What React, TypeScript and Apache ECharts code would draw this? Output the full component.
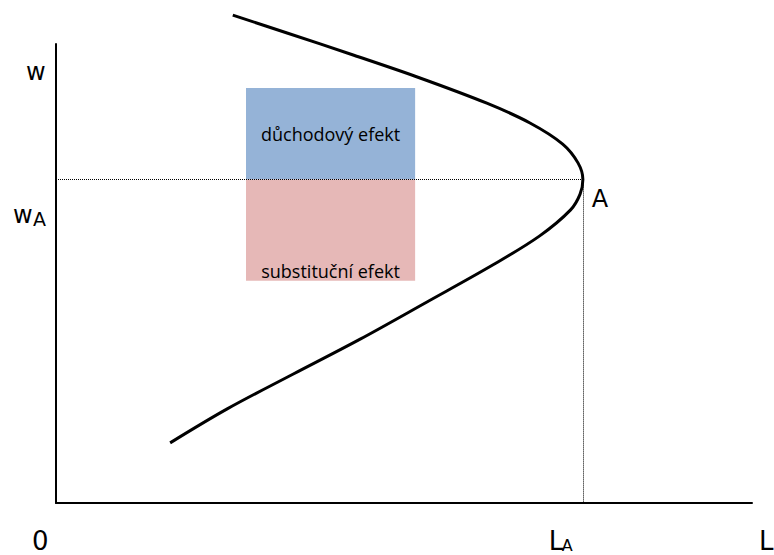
import React, { useEffect, useRef } from "react";
import * as echarts from "echarts";

// Backward-bending labour supply curve (L, w), ordered from bottom to top
const curveL = [16.4, 24.6, 34.1, 43.7, 53.3, 62.8, 69.5, 73.9, 75.3, 75.7, 75.0, 72.8, 68.1, 61.9, 52.3, 42.7, 33.2, 25.4];
const curveW = [13.1, 20.5, 28.1, 35.7, 43.8, 51.9, 58.2, 63.8, 67.3, 70.5, 74.1, 78.2, 82.8, 87.1, 92.6, 97.6, 102.4, 106.3];
const pointA = [75.7, 70.5];
const effectL = [27.3, 51.6];
const incomeW = [70.5, 90.4];
const substitutionW = [48.4, 70.5];
const effectLabels = ["důchodový efekt", "substituční efekt"];
const axisTexts = { w: "w", L: "L", zero: "0", sub: "A", point: "A" };

export default function App() {
  const ref = useRef<HTMLDivElement>(null);
  useEffect(() => {
    if (!ref.current) return;
    const chart = echarts.init(ref.current, undefined, { renderer: "svg" });
    const data = curveL.map((l, i) => [l, curveW[i]]);
    const axisCommon = {
      type: "value" as const,
      min: 0,
      max: 100,
      axisLine: { show: true, lineStyle: { color: "#000", width: 2 } },
      axisTick: { show: false },
      axisLabel: { show: false },
      splitLine: { show: false },
    };
    const effectLabel = {
      show: true,
      color: "#000",
      fontFamily: "Open Sans",
      fontSize: 18,
    };
    chart.setOption({
      animation: false,
      grid: { left: 56, right: 22, top: 44, bottom: 52 },
      xAxis: axisCommon,
      yAxis: axisCommon,
      series: [
        {
          type: "line",
          data,
          clip: false,
          smooth: 0.35,
          symbol: "none",
          lineStyle: { color: "#000", width: 3 },
          silent: true,
          markArea: {
            silent: true,
            itemStyle: { opacity: 1 },
            data: [
              [
                {
                  coord: [effectL[0], incomeW[1]],
                  itemStyle: { color: "#95b3d7", opacity: 1 },
                  label: { ...effectLabel, position: "inside", formatter: effectLabels[0] },
                },
                { coord: [effectL[1], incomeW[0]] },
              ],
              [
                {
                  coord: [effectL[0], substitutionW[1]],
                  itemStyle: { color: "#e6b8b7", opacity: 1 },
                  label: { ...effectLabel, position: "insideBottom", distance: 1, formatter: effectLabels[1] },
                },
                { coord: [effectL[1], substitutionW[0]] },
              ],
            ],
          },
          markLine: {
            silent: true,
            symbol: ["none", "none"],
            label: { show: false },
            lineStyle: { color: "#000", width: 1, type: [1, 1] },
            data: [
              [{ coord: [0, pointA[1]] }, { coord: [pointA[0], pointA[1]] }],
              [{ coord: [pointA[0], pointA[1]] }, { coord: [pointA[0], 0] }],
            ],
          },
        },
      ],
    });

    const pA = chart.convertToPixel({ gridIndex: 0 }, pointA) as number[];
    const origin = chart.convertToPixel({ gridIndex: 0 }, [0, 0]) as number[];
    const top = chart.convertToPixel({ gridIndex: 0 }, [0, 100]) as number[];
    const right = chart.convertToPixel({ gridIndex: 0 }, [100, 0]) as number[];
    const font = "DejaVu Sans";
    const txt = (text: string, x: number, y: number, size: number) => ({
      type: "text",
      x,
      y,
      silent: true,
      style: { text, fill: "#000", font: `${size}px "${font}"`, align: "left", verticalAlign: "middle" },
    });
    chart.setOption({
      graphic: [
        txt(axisTexts.w, origin[0] - 30, top[1] + 28, 24),
        txt(axisTexts.w, origin[0] - 43, pA[1] + 36, 24),
        txt(axisTexts.sub, origin[0] - 23, pA[1] + 40, 19),
        txt(axisTexts.zero, origin[0] - 24, origin[1] + 38, 26),
        txt(axisTexts.L, pA[0] - 34, origin[1] + 38, 26),
        txt(axisTexts.sub, pA[0] - 21, origin[1] + 42, 16),
        txt(axisTexts.L, right[0] + 7, origin[1] + 38, 26),
        txt(axisTexts.point, pA[0] + 9, pA[1] + 20, 24),
      ],
    });
    return () => chart.dispose();
  }, []);
  return <div ref={ref} style={{ position: "absolute", left: 0, top: 0, width: 774, height: 555 }} />;
}
